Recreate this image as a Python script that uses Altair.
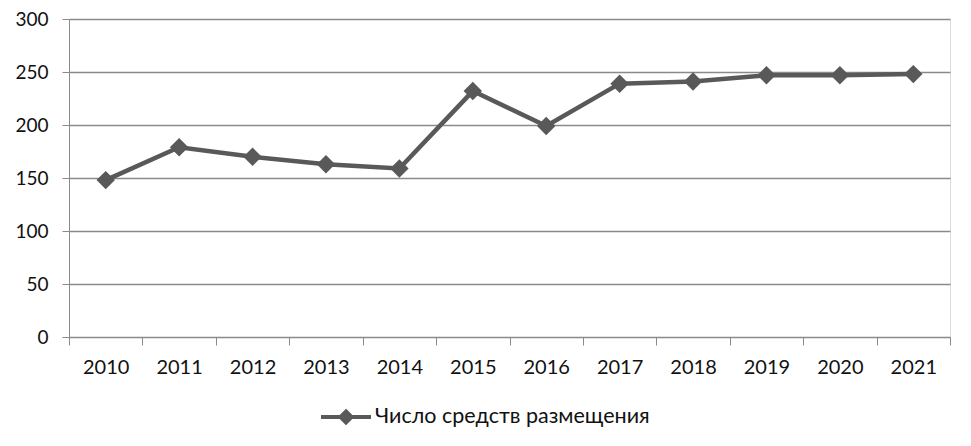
import altair as alt
import pandas as pd

years = ["2010", "2011", "2012", "2013", "2014", "2015", "2016", "2017", "2018", "2019", "2020", "2021"]
values = [148, 179, 170, 163, 159, 232, 199, 239, 241, 247, 247, 248]
series_name = "Число средств размещения"

df = pd.DataFrame({"year": years, "value": values, "series": [series_name] * len(years)})

LINE = "#595959"
GRID = "#8a8a8a"
FONT = "Lato"

x_enc = alt.X(
    "year:O",
    sort=years,
    bandPosition=0.5,
    scale=alt.Scale(type="band", paddingInner=0, paddingOuter=0),
    axis=alt.Axis(
        title=None, grid=False, tickBand="extent", labelAngle=0,
        domainColor=GRID, tickColor=GRID, tickSize=8, labelPadding=12,
        labelFont=FONT, labelFontSize=20, labelColor="#111111",
    ),
)
y_enc = alt.Y(
    "value:Q",
    scale=alt.Scale(domain=[0, 300], nice=False, zero=True),
    axis=alt.Axis(
        title=None, values=[0, 50, 100, 150, 200, 250, 300], grid=True,
        gridColor=GRID, gridWidth=1.5, domainColor=GRID, tickColor=GRID, tickSize=7,
        labelPadding=14, labelFont=FONT, labelFontSize=19, labelColor="#111111",
    ),
)

legend_path = "M-1,0H1M0,-0.22L0.22,0L0,0.22L-0.22,0Z"

line = alt.Chart(df).mark_line(strokeWidth=4.5).encode(
    x=x_enc,
    y=y_enc,
    color=alt.Color(
        "series:N",
        scale=alt.Scale(range=[LINE]),
        legend=alt.Legend(
            title=None, orient="none", legendX=250, legendY=371,
            symbolType=legend_path, symbolSize=2500, symbolStrokeWidth=4,
            symbolFillColor=LINE, symbolStrokeColor=LINE,
            labelFont=FONT, labelFontSize=21.5, labelColor="#111111", labelOffset=2,
            labelLimit=500,
        ),
    ),
)

points = alt.Chart(df).mark_point(shape="diamond", filled=True, size=340, opacity=1, color=LINE).encode(
    x=x_enc,
    y=y_enc,
)

chart = (
    alt.layer(line, points)
    .properties(
        width=881, height=318,
        autosize=alt.AutoSizeParams(type="none"),
        padding={"left": 61, "top": 11, "right": 13, "bottom": 100},
    )
    .configure_view(stroke=None)
    .configure(background="white")
)

chart.save("out.html", embed_options={"renderer": "svg", "actions": False})
